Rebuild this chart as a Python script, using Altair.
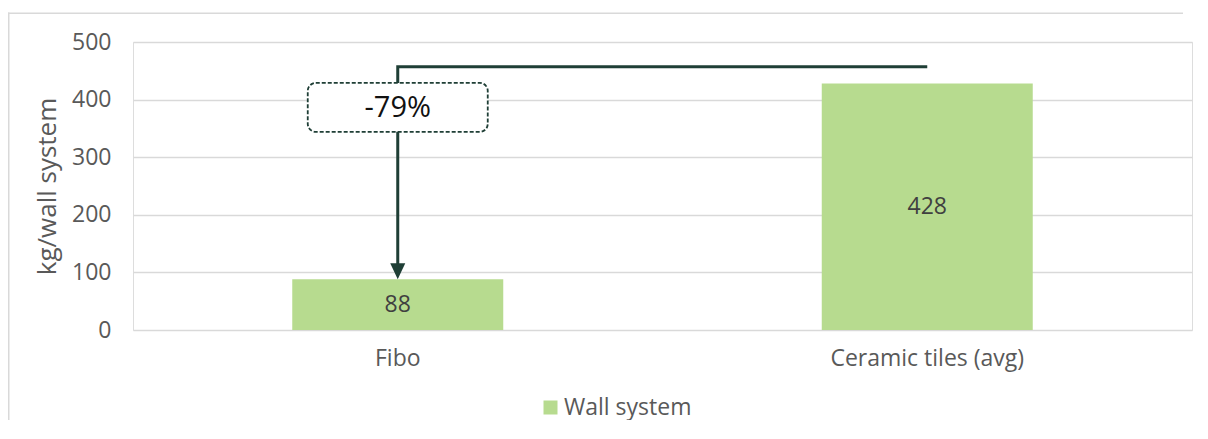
import altair as alt
import pandas as pd

categories = ["Fibo", "Ceramic tiles (avg)"]
values = [88, 428]
series = ["Wall system", "Wall system"]

# annotation values (data units)
bracket_level = 457
box_top = 429
box_bottom = 344
change_label = "-79%"

FONT = "Open Sans"
BAR = "#b7db8f"
DARK = "#1f3f36"
GRAY = "#595959"

bars_df = pd.DataFrame({"cat": categories, "val": values, "series": series})

x_enc = alt.X("cat:N", sort=categories, title=None,
              scale=alt.Scale(paddingInner=0.6, paddingOuter=0.3),
              axis=alt.Axis(labelAngle=0, labelFontSize=23, labelColor=GRAY, labelFont=FONT,
                            labelPadding=17, labelLimit=0, ticks=False, domain=False))
y_enc = alt.Y("val:Q", title="kg/wall system",
              scale=alt.Scale(domain=[0, 500]),
              axis=alt.Axis(values=[0, 100, 200, 300, 400, 500], labelFontSize=23,
                            labelColor=GRAY, labelFont=FONT, labelPadding=22,
                            ticks=False, domain=False, gridColor="#d9d9d9", gridWidth=1.5,
                            titleFont=FONT, titleFontSize=26, titleColor=GRAY,
                            titleFontWeight="normal", titlePadding=11))

# chart frame (styling only): thin filled strips for the top and left edges
frame_top = alt.Chart(pd.DataFrame({"a": [0]})).mark_rect(
    fill="#d9d9d9", stroke=None
).encode(x=alt.value(-125), x2=alt.value(1050), y=alt.value(-29.5), y2=alt.value(-28))
frame_left = alt.Chart(pd.DataFrame({"a": [0]})).mark_rect(
    fill="#d9d9d9", stroke=None
).encode(x=alt.value(-125), x2=alt.value(-123.5), y=alt.value(-29.5), y2=alt.value(420))

bars = alt.Chart(bars_df).mark_bar(size=211).encode(
    x=x_enc, y=y_enc,
    color=alt.Color("series:N", title=None,
                    scale=alt.Scale(range=[BAR]),
                    legend=alt.Legend(orient="none", legendX=406, legendY=354,
                                      symbolType="square", symbolSize=196,
                                      symbolStrokeWidth=0, labelFont=FONT,
                                      labelFontSize=23, labelColor=GRAY,
                                      labelOffset=2))
)

labels = alt.Chart(bars_df).transform_calculate(mid="datum.val/2").mark_text(
    font=FONT, fontSize=23, color="#404040"
).encode(x=alt.X("cat:N", sort=categories), y=alt.Y("mid:Q"), text=alt.Text("val:Q"))

path_df = pd.DataFrame({
    "cat": [categories[1], categories[0], categories[0]],
    "val": [bracket_level, bracket_level, values[0] + 15],
    "ord": [0, 1, 2],
})
path = alt.Chart(path_df).mark_line(color=DARK, strokeWidth=3, strokeJoin="miter").encode(
    x=alt.X("cat:N", sort=categories), y=alt.Y("val:Q"), order="ord:Q"
)

arrow = alt.Chart(pd.DataFrame({"cat": [categories[0]], "val": [values[0]]})).mark_point(
    shape="M-0.94,-1L0.94,-1L0,1Z", filled=True, size=256, color=DARK, opacity=1, yOffset=-8
).encode(x=alt.X("cat:N", sort=categories), y=alt.Y("val:Q"))

box = alt.Chart(pd.DataFrame({"cat": [categories[0]], "top": [box_top], "bot": [box_bottom]})).mark_bar(
    width=180, fill="white", stroke=DARK, strokeWidth=1.8, strokeDash=[4, 2], cornerRadius=8
).encode(x=alt.X("cat:N", sort=categories), y=alt.Y("top:Q"), y2="bot:Q")

box_text = alt.Chart(pd.DataFrame({"cat": [categories[0]], "val": [(box_top + box_bottom) / 2], "t": [change_label]})).mark_text(
    font=FONT, fontSize=29, color="#111111", dy=1
).encode(x=alt.X("cat:N", sort=categories), y=alt.Y("val:Q"), text="t:N")

chart = alt.layer(frame_top, frame_left, bars, labels, path, arrow, box, box_text).properties(
    width=1059, height=288,
    autosize=alt.AutoSizeParams(type="none"),
    padding={"left": 125, "top": 34, "right": 8, "bottom": 90},
).configure_view(stroke=None).configure(background="white")

chart.save("out.html", embed_options={"renderer": "svg", "actions": False})
